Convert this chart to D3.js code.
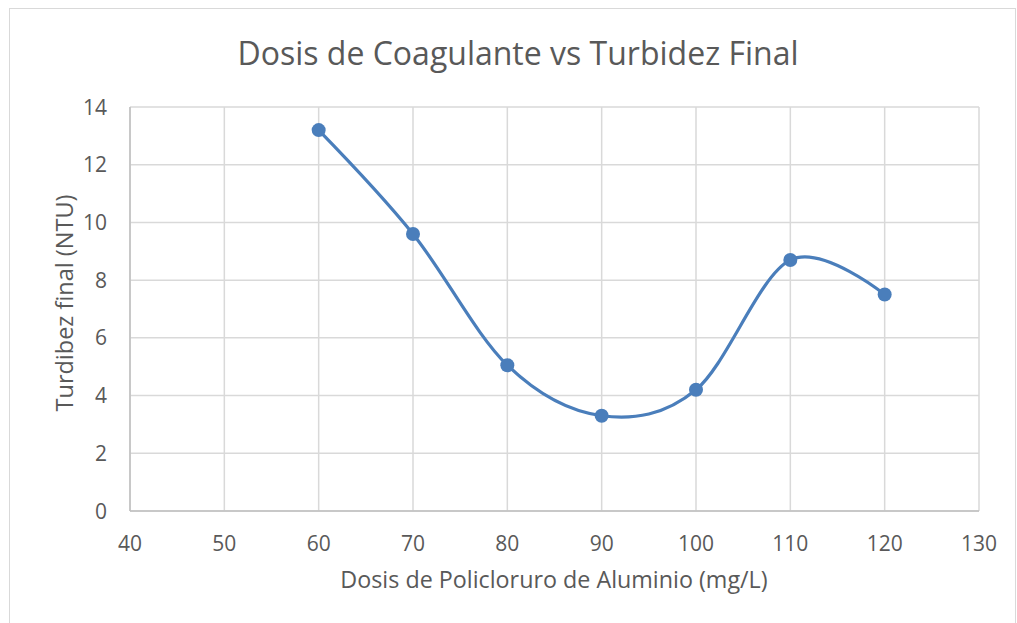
<!DOCTYPE html>
<html>
<head>
<meta charset="utf-8">
<script src="https://cdn.jsdelivr.net/npm/d3@7"></script>
<style>
  body { margin: 0; background: #fff; }
  text { font-family: "Open Sans", sans-serif; fill: #595959; }
</style>
</head>
<body>
<div id="chart"></div>
<script>
// data
const dosis = [60, 70, 80, 90, 100, 110, 120];
const turbidez = [13.2, 9.6, 5.05, 3.3, 4.2, 8.7, 7.5];
const xTicks = [40, 50, 60, 70, 80, 90, 100, 110, 120, 130];
const yTicks = [0, 2, 4, 6, 8, 10, 12, 14];

const width = 1017, height = 623;
const margin = {top: 107, right: 38, bottom: 112, left: 130};

const svg = d3.select("#chart").append("svg")
    .attr("width", width)
    .attr("height", height);

// outer chart border
svg.append("rect")
    .attr("x", 9.5).attr("y", 8.5)
    .attr("width", 1006).attr("height", 620)
    .attr("fill", "none")
    .attr("stroke", "#d9d9d9");

const x = d3.scaleLinear().domain([40, 130]).range([margin.left, width - margin.right]);
const y = d3.scaleLinear().domain([0, 14]).range([height - margin.bottom, margin.top]);

// gridlines
svg.append("g")
    .selectAll("line.vgrid")
    .data(xTicks)
    .join("line")
    .attr("x1", d => x(d)).attr("x2", d => x(d))
    .attr("y1", y(0)).attr("y2", y(14))
    .attr("stroke", "#d9d9d9").attr("stroke-width", 1.5);

svg.append("g")
    .selectAll("line.hgrid")
    .data(yTicks)
    .join("line")
    .attr("x1", x(40)).attr("x2", x(130))
    .attr("y1", d => y(d)).attr("y2", d => y(d))
    .attr("stroke", "#d9d9d9").attr("stroke-width", 1.5);

// axis lines
svg.append("line")
    .attr("x1", x(40)).attr("x2", x(130))
    .attr("y1", y(0)).attr("y2", y(0))
    .attr("stroke", "#bfbfbf").attr("stroke-width", 1.5);
svg.append("line")
    .attr("x1", x(40)).attr("x2", x(40))
    .attr("y1", y(0)).attr("y2", y(14))
    .attr("stroke", "#bfbfbf").attr("stroke-width", 1.5);

// tick labels
svg.append("g")
    .selectAll("text")
    .data(xTicks)
    .join("text")
    .attr("x", d => x(d))
    .attr("y", 551)
    .attr("text-anchor", "middle")
    .attr("font-size", "21px")
    .text(d => d);

svg.append("g")
    .selectAll("text")
    .data(yTicks)
    .join("text")
    .attr("x", 107)
    .attr("y", d => y(d))
    .attr("dy", "0.36em")
    .attr("text-anchor", "end")
    .attr("font-size", "21px")
    .text(d => d);

// titles
svg.append("text")
    .attr("x", 518).attr("y", 65)
    .attr("text-anchor", "middle")
    .attr("font-size", "32px")
    .text("Dosis de Coagulante vs Turbidez Final");

svg.append("text")
    .attr("x", 554).attr("y", 588)
    .attr("text-anchor", "middle")
    .attr("font-size", "23.3px")
    .text("Dosis de Policloruro de Aluminio (mg/L)");

svg.append("text")
    .attr("transform", "translate(73," + 303 + ") rotate(-90)")
    .attr("text-anchor", "middle")
    .attr("font-size", "23.5px")
    .text("Turdibez final (NTU)");

// smoothed line
const points = dosis.map((d, i) => [d, turbidez[i]]);
const line = d3.line()
    .x(d => x(d[0]))
    .y(d => y(d[1]))
    .curve(d3.curveCatmullRom.alpha(0));

svg.append("path")
    .datum(points)
    .attr("d", line)
    .attr("fill", "none")
    .attr("stroke", "#4a7ebb")
    .attr("stroke-width", 3.2);

svg.append("g")
    .selectAll("circle")
    .data(points)
    .join("circle")
    .attr("cx", d => x(d[0]))
    .attr("cy", d => y(d[1]))
    .attr("r", 7)
    .attr("fill", "#4a7ebb");
</script>
</body>
</html>
